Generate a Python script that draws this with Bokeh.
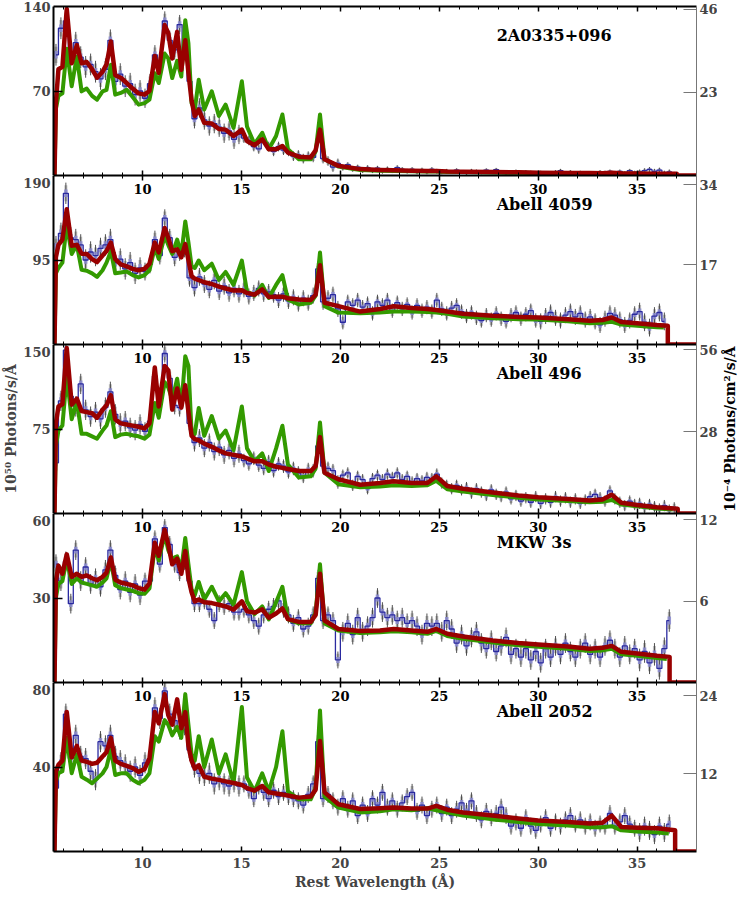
import math
import numpy as np
from bokeh.plotting import figure
from bokeh.layouts import column, row
from bokeh.models import Range1d, LinearAxis, FixedTicker, CustomLabelingPolicy
from bokeh.core.properties import value
from bokeh.embed import file_html
from bokeh.resources import INLINE

# ---------------- data ----------------
X_TICKS = [10, 15, 20, 25, 30, 35]
X_MINOR = list(range(6, 38))
NAMES = ["2A0335+096", "Abell 4059", "Abell 496", "MKW 3s", "Abell 2052"]
LEFT_TICKS = [[70, 140], [95, 190], [75, 150], [30, 60], [40, 80]]
RIGHT_TICKS = [[23, 46], [17, 34], [28, 56], [6, 12], [12, 24]]
RIGHT_MAX = [46.7, 36.0, 57.8, 12.45, 26.0]
CUT = [37.0, 36.55, 37.05, 36.64, 36.92]
RED_END = [1.4, 21.2, 4.3, 9.1, 10.1]
GREEN_END_WL = [36.6, 36.35, 36.8, 36.5, 36.6]
GREEN_END = [1.2, 19.0, 3.5, 8.3, 8.5]

MODEL_WL = [5.55, 5.62, 5.75, 5.95, 6.17, 6.42, 6.68, 6.92, 7.18, 7.45,
            7.7, 7.98, 8.18, 8.4, 8.62, 8.9, 9.2, 9.5, 9.8, 10.1,
            10.35, 10.62, 10.82, 11.12, 11.3, 11.5, 11.75, 11.96, 12.16, 12.32,
            12.48, 12.64, 12.84, 13.12, 13.5, 13.86, 14.2, 14.6, 15.02, 15.28,
            15.66, 16.05, 16.38, 16.75, 17.07, 17.35, 17.9, 18.5, 18.75, 18.97,
            19.2, 19.9, 21.0, 22.0, 22.7, 23.6, 24.4, 24.85, 25.4, 26.2,
            27.7, 29.0, 30.0, 31.5, 32.6, 33.25, 33.72, 34.2, 35.0, 36.0]

RED_1 = [0, 60, 88, 90, 138, 93, 108, 93, 94, 88,
         81, 86, 92, 111, 83, 81, 76.6, 72, 68, 67,
         70, 99, 85, 124.6, 118, 97, 119, 87.5, 112, 85,
         62, 49.3, 54.6, 43.6, 43, 38.5, 38, 32.7, 38, 28.6,
         25, 30, 21.7, 21.7, 24.4, 19, 15.6, 15, 21, 38,
         13.4, 8, 5.3, 4.6, 4.3, 4.0, 3.7, 3.8, 3.4, 3.2,
         2.9, 2.6, 2.3, 2.1, 2.0, 1.9, 2.2, 1.8, 1.6, 1.5]
GREEN_1 = [0, 55, 66, 68, 105, 74, 98.6, 69.7, 72, 66,
           62.8, 69.7, 71, 91.7, 67, 68.4, 71, 65, 58.7, 60,
           62.8, 84.8, 76.6, 101, 97, 80.7, 95, 82, 128.7, 109.5,
           60, 54.5, 79.3, 54.6, 69.7, 49.3, 58.7, 39.5, 78, 40.6,
           26, 35.4, 21.7, 32.7, 50.5, 21.7, 13.4, 13.4, 20, 50.5,
           13.4, 7.5, 4.6, 4.0, 3.8, 3.5, 3.3, 3.3, 3.0, 2.8,
           2.5, 2.2, 2.0, 1.8, 1.7, 1.6, 1.7, 1.5, 1.4, 1.3]
RED_2 = [0, 98, 112, 118, 152, 111, 112, 102, 101.8, 96,
         92.6, 100, 105, 114.5, 96, 90, 87.8, 85, 83.5, 85,
         90.8, 114.5, 103.5, 131, 120, 105, 107, 98, 112.8, 95,
         77, 74, 72.5, 70, 68, 65, 63, 60.7, 61, 58,
         56, 62, 53.4, 53.6, 53.8, 52, 50.5, 50, 56, 89,
         47, 43.2, 37, 40, 43, 41, 40, 38.8, 37, 34.5,
         32.2, 31, 30.4, 28.5, 26.7, 27.5, 30.4, 25.2, 24, 22]
GREEN_2 = [0, 80, 86, 92, 134.7, 101.8, 112, 84, 83, 80,
           76, 83.5, 92, 105, 80, 81, 82, 78, 75.4, 78,
           83.5, 109, 96.3, 122, 112, 101.8, 118, 101.8, 138.4, 115,
           88, 86, 94.4, 83.5, 90.8, 72.5, 81.6, 67, 94.4, 59.6,
           55, 67, 52.4, 67, 78, 50.5, 45, 46.9, 55, 103.5,
           43.2, 35.9, 35, 36, 37, 37, 36.5, 36, 34.5, 31.5,
           29.5, 28.5, 28, 26, 24, 24.5, 25.5, 22.5, 21, 19.5]
RED_3 = [0, 80, 95, 97, 146.8, 96.6, 102, 91, 90, 89,
         85, 92, 96, 105, 83.6, 80, 79, 78, 77, 75.5,
         80, 129.6, 95, 131, 127, 92.2, 111, 94, 113.8, 90,
         69, 66, 65, 62, 59.2, 56, 53.4, 52, 50.6, 49,
         46.3, 46.3, 43.5, 41.5, 40.5, 39.5, 37.7, 37.7, 42, 67.8,
         36.2, 30.4, 25.5, 27, 28.7, 27, 27, 33, 24.4, 22,
         18.7, 16, 14.4, 12.8, 11.5, 12.5, 16.6, 9.5, 7.5, 5.5]
GREEN_3 = [0, 60, 73.6, 78, 122, 83.6, 99.4, 70.7, 70.7, 68.5,
           66.4, 73.6, 78, 90.8, 67.8, 70, 70.7, 69.5, 68.5, 66.4,
           70, 98, 85, 116.6, 112, 101, 119.6, 95, 139.6, 131,
           72, 70.7, 93.7, 69, 86.5, 66.4, 73.6, 56.3, 95, 57.8,
           46.3, 53.4, 37.7, 57.8, 77.9, 43.4, 32, 33, 40, 80.8,
           36.2, 26, 23.3, 24, 25, 24.5, 25, 29, 21.5, 19.5,
           16.5, 14, 12.5, 11, 10, 10.5, 12, 8, 6.5, 4.5]
RED_4 = [0, 36, 41.5, 38.6, 45.5, 37.5, 38.6, 37.5, 38, 37,
         36.3, 37.5, 39, 44.4, 36.5, 35.5, 35, 34.5, 33.5, 33,
         35.2, 49.6, 45, 54.2, 49, 42, 44, 38.6, 46.7, 37,
         32, 28.8, 29.5, 28.5, 28.2, 27.6, 27, 25.9, 28.8, 25.3,
         24.8, 26, 23, 24.5, 26.3, 22.5, 21.5, 21.5, 24, 38.6,
         22, 19, 18.3, 18.5, 19, 18.5, 18, 19, 17.3, 16.3,
         14.9, 14, 13.5, 12.8, 12, 12.3, 13, 10.9, 10.3, 9.5]
GREEN_4 = [0, 30, 35, 36, 43.8, 35, 37, 35.5, 35, 34.5,
           34, 35.5, 37, 43.3, 34.5, 33.5, 33, 32.5, 31.7, 31.5,
           33.4, 48, 43.3, 52.5, 47, 44, 44.8, 40.3, 51.3, 42,
           33, 31, 35.7, 29.5, 34, 28.8, 31.7, 27.6, 39.2, 28.8,
           24.3, 27, 22.4, 28.5, 34, 22.4, 21, 21, 25, 42,
           21, 18.5, 17.6, 17.8, 18.2, 17.8, 17.3, 18.3, 16.5, 15.5,
           14.2, 13.2, 12.7, 12, 11.2, 11.4, 12, 10, 9.5, 8.7]
RED_5 = [0, 38, 41, 43, 66, 44.6, 50, 43, 42.5, 41.5,
         42, 45, 47, 53.8, 43, 41.5, 40.5, 39.5, 37.7, 39,
         44, 66, 60.7, 74.5, 64.5, 60, 72, 58.4, 66, 50,
         43, 39.2, 40.8, 35.4, 34.5, 33.9, 33.2, 32.4, 31.5, 30,
         28.8, 31, 28, 27.5, 27, 26.5, 25.5, 26, 29.3, 52.3,
         28, 22.4, 20.1, 20.5, 20.8, 20.3, 20.3, 21.6, 19.8, 18.5,
         17, 15.6, 14.7, 14, 13.2, 13.6, 17, 11.6, 11.3, 11]
GREEN_5 = [0, 33, 37, 38, 53.8, 37, 46, 35.4, 34, 32.3,
           34.5, 37, 40, 48.4, 36.2, 37, 37, 34, 32.3, 34,
           37, 54.6, 52, 62.2, 60, 55, 59, 53.8, 74.5, 60,
           46, 43, 54.6, 40, 53, 37, 46, 32.4, 68.4, 35,
           28.5, 37, 28.5, 40, 56.9, 28.5, 24.7, 24.7, 30, 66.8,
           26, 20.8, 18.5, 19, 20, 19.5, 20.5, 19.5, 18.5, 17,
           15.2, 14, 13, 12.3, 11.5, 11.5, 12, 10, 9.5, 9]

# observed spectra, 0.25 A bins starting at 5.625 A
DATA_WL_START = 5.625
DATA_WL_STEP = 0.25
NaN = float("nan")
DATA_1 = [100, 122,
          128, 100, 110, 98,  90, 92, 86, 80,  88, 112, 78, 84,  74, 76, 67, 70,
          64, 76, 100, 92,  128, 112, 104, 125,  104, 78, 47, 56,  46, 41, 43, 40,
          35, 37, 30, 34,  31, 29, 24, 22,  30, 24, 20, 24,  21, 20, 16, 17,
          14, 16, 15, 30,  14, 12, 7, 10,  6, 9, 5, 7,  4, 6.5, 4, 6,
          3.5, 5.5, 4, 6.5,  5, 3.5, 5, 3,  4.5, 3, 5, 3.5,  2.5, 4, 3, 4.5,
          3, 2, 4, 3.5,  2.5, 4.5, 3, 4.8,  3, 2, 2.5, 3.5,  2, 3, 2.5, 2,
          2.5, 1.5, 2, 3,  4, 2, 3, 1.5,  2.5, 1.5, 2, 1.5,  3, 2.5, 3.5, 2,
          3.5, 2, 4, 2.5,  3, 4, 5, 3.5,  4.5, 2, 3, 1]
DATA_2 = [110, 125,
          170, 120, 118, 112,  95, 104, 100, 108,  112, 118, 92, 96,  85, 92, 80, 86,
          82, 90, 118, 100,  142, 120, 98, 104,  108, 75, 64, 76,  68, 62, 72, 60,
          66, 58, 63, 57,  62, 54, 58, 63,  57, 59, 56, 50,  57, 49, 53, 46,
          52, 47, 55, 85,  48, 52, 56, 40,  25, 48, 44, 50,  42, 46, 35, 48,
          44, 50, 38, 47,  40, 45, 36, 44,  38, 42, 37, 50,  40, 35, 41, 44,
          37, 32, 36, 30,  27, 33, 28, 35,  29, 26, 33, 36,  29, 34, 38, 27,
          26, 32, 36, 30,  27, 33, 37, 31,  35, 28, 31, 26,  22, 29, 35, 33,
          28, 22, 27, 34,  37, 25, 19, 32,  36, 26, NaN, NaN]
DATA_3 = [45, 100,
          145, 104, 95, 115,  92, 86, 90, 84,  94, 108, 88, 80,  82, 76, 74, 79,
          73, 82, 122, 104,  142, 120, 96, 94,  110, 80, 63, 67,  58, 63, 55, 59,
          52, 56, 49, 53,  47, 44, 49, 43,  40, 46, 38, 44,  42, 37, 40, 36,
          33, 39, 38, 60,  42, 40, 38, 28,  34, 36, 25, 33,  30, 22, 31, 34,
          30, 35, 32, 36,  30, 33, 28, 31,  29, 32, 31, 35,  27, 25, 22, 25,
          21, 23, 18, 22,  19, 16, 21, 17,  15, 19, 13, 16,  11, 14, 10, 15,
          9, 13, 10, 15,  11, 14, 10, 13,  9, 12, 15, 17,  14, 11, 20, 13,
          10, 7, 11, 8,  9, 5, 8, 6,  4, 7, 3, 5]
DATA_4 = [42, 36,
          43, 28, 47, 36,  41, 35, 37, 34,  40, 47, 38, 33,  36, 32, 35, 31,
          36, 36, 51, 42,  55, 49, 42, 39,  43, 36, 28, 28,  29, 26, 22, 28,
          27, 28, 25, 25,  26, 24, 22, 20,  24, 26, 27, 29,  26, 24, 21, 23,
          19, 20, 24, 37,  22, 24, 22, 8,  18, 21, 17, 23,  18, 20, 23, 30,
          25, 23, 24, 22,  23, 21, 22, 20,  17, 21, 20, 21,  18, 22, 19, 14,
          17, 13, 16, 18,  14, 12, 15, 11,  13, 16, 10, 12,  9, 12, 8, 11,
          7, 12, 9, 13,  10, 14, 11, 9,  12, 14, 10, 12,  9, 13, 15, 12,
          9, 13, 10, 12,  8, 11, 7, 10,  5, 12, 22, NaN]
DATA_5 = [30, 42,
          65, 44, 55, 45,  44, 38, 34, 52,  50, 55, 45, 43,  41, 38, 40, 36,
          42, 44, 68, 63,  76, 65, 62, 58,  60, 48, 40, 37,  36, 37, 32, 34,
          32, 31, 33, 31,  32, 29, 25, 31,  28, 25, 29, 26,  28, 26, 25, 24,
          22, 27, 32, 52,  25, 27, 24, 21,  25, 20, 24, 17,  22, 18, 25, 22,
          28, 21, 24, 20,  23, 26, 28, 19,  22, 17, 20, 22,  18, 21, 17, 20,
          23, 19, 24, 18,  15, 19, 16, 18,  21, 17, 12, 14,  11, 16, 12, 10,
          13, 16, 11, 14,  12, 15, 17, 13,  15, 12, 14, 11,  13, 12, 18, 12,
          14, 17, 13, 11,  9, 12, 10, 8,  12, 9, 13, NaN]

# 1-sigma errors per 5 A segment (5.5-10, 10-15, ..., 35-38)
ERR_EDGES = [5.5, 10, 15, 20, 25, 30, 35, 38]
ERR_1 = [9, 8, 4, 2, 1.5, 1.5, 2]
ERR_2 = [12, 10, 9, 8, 8, 9, 10]
ERR_3 = [9, 8, 6, 5, 5, 5, 5]
ERR_4 = [3.5, 3, 3, 3.5, 3.5, 3.5, 4]
ERR_5 = [5, 5, 4, 4, 4, 4, 4.5]

REDS = [RED_1, RED_2, RED_3, RED_4, RED_5]
GREENS = [GREEN_1, GREEN_2, GREEN_3, GREEN_4, GREEN_5]
DATAS = [DATA_1, DATA_2, DATA_3, DATA_4, DATA_5]
ERRS = [ERR_1, ERR_2, ERR_3, ERR_4, ERR_5]

LEFT_TITLE = "10⁵⁰ Photons/s/Å"
RIGHT_TITLE = "10⁻⁴ Photons/cm²/s/Å"
X_TITLE = "Rest Wavelength (Å)"

# ---------------- style ----------------
FONT = "DejaVu Serif"
FRAME_W = 643
FRAME_H = 169
TOP_PAD = 6
STRIP_W = 19
X_MIN, X_MAX = 5.5, 38.0
TITLE_X = 27.9
RED_C = "#990000"
GREEN_C = "#339a00"
TICK_FS = "13px"
LABEL_FS = "14px"


def x_axis(show_labels):
    ax = LinearAxis(ticker=FixedTicker(ticks=X_TICKS, minor_ticks=X_MINOR),
                    major_tick_in=5, major_tick_out=0,
                    minor_tick_in=3, minor_tick_out=0,
                    axis_line_width=2, axis_line_color="black",
                    major_tick_line_color="black", major_tick_line_width=1.5,
                    minor_tick_line_color="black")
    if show_labels:
        ax.major_label_text_font = FONT
        ax.major_label_text_font_style = "bold"
        ax.major_label_text_font_size = TICK_FS
        ax.major_label_standoff = 6
        ax.axis_label = X_TITLE
        ax.axis_label_text_font = FONT
        ax.axis_label_text_font_style = "bold"
        ax.axis_label_text_font_size = LABEL_FS
        ax.axis_label_standoff = 3
    else:
        ax.major_label_text_font_size = "0px"
        ax.major_label_standoff = 0
        ax.major_label_policy = CustomLabelingPolicy(code="return []")
    return ax


figs = []
n = len(NAMES)
for i in range(n):
    mid, top = LEFT_TICKS[i]
    last = (i == n - 1)
    p = figure(frame_width=FRAME_W, frame_height=FRAME_H,
               x_range=Range1d(X_MIN, X_MAX), y_range=Range1d(0, top),
               x_axis_type=None, y_axis_type=None,
               toolbar_location=None, output_backend="svg",
               min_border_left=50, min_border_right=24,
               min_border_top=TOP_PAD if i == 0 else 0,
               min_border_bottom=0)
    p.outline_line_color = None
    p.grid.visible = False
    p.background_fill_color = "white"
    p.border_fill_color = "white"

    # left axis (luminosity units)
    shift = 0 if i == 0 else top * 7.0 / FRAME_H
    lab_top = top - shift
    lax = LinearAxis(ticker=FixedTicker(ticks=[mid, lab_top], minor_ticks=[mid]),
                     major_label_overrides={mid: str(mid), lab_top: str(top)},
                     major_tick_in=0, major_tick_out=0,
                     minor_tick_in=9, minor_tick_out=0,
                     minor_tick_line_color="black", minor_tick_line_width=1.5,
                     axis_line_width=2, axis_line_color="black",
                     major_label_standoff=3,
                     major_label_text_font=FONT, major_label_text_font_style="bold",
                     major_label_text_font_size=TICK_FS)
    if i == 2:
        lax.axis_label = LEFT_TITLE
        lax.axis_label_text_font = FONT
        lax.axis_label_text_font_style = "bold"
        lax.axis_label_text_font_size = LABEL_FS
        lax.axis_label_standoff = 1
    p.add_layout(lax, "left")

    # right axis (flux units)
    p.extra_y_ranges = {"flux": Range1d(0, RIGHT_MAX[i])}
    rax = LinearAxis(y_range_name="flux",
                     ticker=FixedTicker(ticks=RIGHT_TICKS[i], minor_ticks=[]),
                     major_tick_in=13, major_tick_out=0,
                     major_tick_line_color="#777777",
                     axis_line_color="#777777", axis_line_width=1,
                     major_label_standoff=3,
                     major_label_text_font=FONT, major_label_text_font_style="bold",
                     major_label_text_font_size=TICK_FS)
    p.add_layout(rax, "right")

    p.add_layout(x_axis(False), "above")
    p.add_layout(x_axis(last), "below")

    # observed data
    d = np.array(DATAS[i], dtype=float)
    wl = DATA_WL_START + DATA_WL_STEP * np.arange(len(d))
    seg = np.clip(np.searchsorted(ERR_EDGES, wl, side="right") - 1, 0, len(ERRS[i]) - 1)
    e = np.array(ERRS[i], dtype=float)[seg]
    ok = ~np.isnan(d)
    p.segment(x0=wl[ok], y0=(d - 0.75 * e)[ok], x1=wl[ok], y1=(d + 0.75 * e)[ok],
              line_color="#b4b4b4", line_width=3, line_alpha=0.8)
    p.segment(x0=wl[ok], y0=(d - e)[ok], x1=wl[ok], y1=(d + e)[ok],
              line_color="#333333", line_width=1, line_alpha=0.85)
    p.segment(x0=wl[ok], y0=(d - 0.35 * e)[ok], x1=wl[ok], y1=(d + 0.35 * e)[ok],
              line_color="#8a8ad0", line_width=3.5, line_alpha=0.85)
    p.step(wl, d, mode="center", line_color="#2a2aa0", line_width=1.3)

    # models
    gx = MODEL_WL + [GREEN_END_WL[i]]
    gy = GREENS[i] + [GREEN_END[i]]
    p.line(gx, gy, line_color=GREEN_C, line_width=4, line_join="round")
    rx = MODEL_WL + [CUT[i], CUT[i], X_MAX]
    ry = REDS[i] + [RED_END[i], 0, 0]
    p.line(rx, ry, line_color=RED_C, line_width=4.5, line_join="round")

    # in-panel wavelength labels (panels below the first)
    if i > 0:
        p.text(x=X_TICKS, y=[top] * len(X_TICKS), text=[str(t) for t in X_TICKS],
               text_font=value(FONT), text_font_style="bold", text_font_size=TICK_FS,
               text_align="center", text_baseline="top", y_offset=8,
               text_color="black")
    p.text(x=[TITLE_X], y=[top], text=[NAMES[i]],
           text_font=value(FONT), text_font_style="bold", text_font_size="16px",
           text_align="left", text_baseline="middle", y_offset=29,
           text_color="black")
    figs.append(p)

# narrow strip to the right carrying the flux-axis title (reads bottom to top)
strip_h = TOP_PAD + n * FRAME_H
strip = figure(width=STRIP_W, height=strip_h,
               x_range=Range1d(0, 1), y_range=Range1d(0, strip_h),
               x_axis_type=None, y_axis_type=None,
               toolbar_location=None, output_backend="svg",
               min_border=0)
strip.outline_line_color = None
strip.grid.visible = False
strip.text(x=[0.5], y=[strip_h - (TOP_PAD + 2.5 * FRAME_H)], text=[RIGHT_TITLE],
           angle=math.pi / 2,
           text_font=value(FONT), text_font_style="bold", text_font_size=LABEL_FS,
           text_align="center", text_baseline="middle", text_color="black")

layout = row(column(*figs, spacing=0), strip, spacing=0)
open("out.html", "w").write(file_html(layout, INLINE))
